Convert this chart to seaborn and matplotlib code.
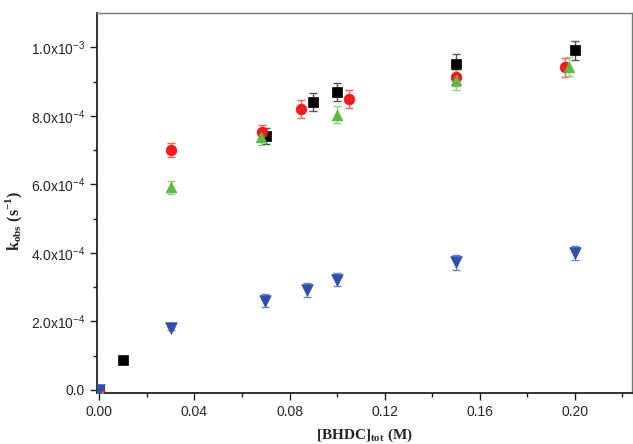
import numpy as np
import pandas as pd
import matplotlib
matplotlib.use("Agg")
import matplotlib.pyplot as plt
import seaborn as sns
from matplotlib.ticker import MultipleLocator, FuncFormatter

# ---- data ----
x_black = [0.0, 0.01, 0.07, 0.09, 0.10, 0.15, 0.20]
y_black = [0.0, 0.86e-4, 7.42e-4, 8.41e-4, 8.70e-4, 9.52e-4, 9.91e-4]
e_black = [0.0, 0.0, 0.23e-4, 0.26e-4, 0.27e-4, 0.29e-4, 0.29e-4]

x_red = [0.0, 0.03, 0.0685, 0.085, 0.105, 0.15, 0.196]
y_red = [0.0, 7.00e-4, 7.52e-4, 8.20e-4, 8.50e-4, 9.15e-4, 9.42e-4]
e_red = [0.0, 0.21e-4, 0.21e-4, 0.26e-4, 0.26e-4, 0.28e-4, 0.28e-4]

x_green = [0.0, 0.03, 0.068, 0.10, 0.15, 0.1975]
y_green = [0.0, 5.91e-4, 7.38e-4, 8.03e-4, 9.05e-4, 9.44e-4]
e_green = [0.0, 0.19e-4, 0.22e-4, 0.25e-4, 0.28e-4, 0.28e-4]

x_blue = [0.0, 0.03, 0.0695, 0.0875, 0.10, 0.15, 0.20]
y_blue = [0.0, 1.80e-4, 2.60e-4, 2.92e-4, 3.21e-4, 3.72e-4, 3.99e-4]
e_blue = [0.0, 0.05e-4, 0.19e-4, 0.21e-4, 0.19e-4, 0.21e-4, 0.20e-4]

x_ticks = [0.00, 0.04, 0.08, 0.12, 0.16, 0.20]
y_ticks = [0.0, 2e-4, 4e-4, 6e-4, 8e-4, 1e-3]

series = [
    ("black", x_black, y_black, e_black, "s", "#000000", "#555555", 42),
    ("red", x_red, y_red, e_red, "o", "#ee1c1c", "#f26a5a", 60),
    ("green", x_green, y_green, e_green, "^", "#5cb946", "#8fd07a", 60),
    ("blue", x_blue, y_blue, e_blue, "v", "#2f4fa8", "#6a84c8", 70),
]

sns.set_style("ticks")
plt.rcParams["font.family"] = ["Liberation Sans", "DejaVu Sans"]
plt.rcParams["mathtext.fontset"] = "custom"
plt.rcParams["mathtext.rm"] = "Liberation Sans"

fig = plt.figure(figsize=(6.33, 4.44), dpi=100)
ax = fig.add_axes([0.1532, 0.1149, 0.8452, 0.8547])

frames = []
for name, xs, ys, es, m, c, ec, s in series:
    frames.append(pd.DataFrame({"x": xs, "y": ys, "e": es, "series": name}))
df = pd.concat(frames, ignore_index=True)

for name, xs, ys, es, m, c, ec, s in series:
    sub = df[df["series"] == name]
    ax.errorbar(sub["x"], sub["y"], yerr=sub["e"], fmt="none", ecolor=ec,
                elinewidth=1.0, capsize=3, capthick=1.0, zorder=2)
    sns.scatterplot(data=sub, x="x", y="y", marker=m, color=c, s=s,
                    edgecolor=c, linewidth=0.5, ax=ax, zorder=3, legend=False)

ax.set_xlim(-0.001, 0.224)
ax.set_ylim(-0.9e-5, 1.099e-3)
ax.set_xticks(x_ticks)
ax.set_yticks(y_ticks)
ax.xaxis.set_minor_locator(MultipleLocator(0.02))
ax.yaxis.set_minor_locator(MultipleLocator(1e-4))
ax.xaxis.set_major_formatter(FuncFormatter(lambda v, p: f"{v:.2f}"))


def yfmt(v, p):
    if abs(v) < 1e-12:
        return "0.0"
    exp = int(np.floor(np.log10(abs(v)) + 1e-9))
    mant = v / 10 ** exp
    return f"{mant:.1f}x10$^{{\\mathregular{{{exp}}}}}$"


ax.yaxis.set_major_formatter(FuncFormatter(yfmt))
ax.tick_params(axis="both", which="major", direction="out", length=5, width=1,
               labelsize=10, color="#222222")
ax.tick_params(axis="both", which="minor", direction="out", length=3, width=1,
               color="#222222")

for side in ["left", "bottom"]:
    ax.spines[side].set_color("#222222")
    ax.spines[side].set_linewidth(1.3)
for side in ["top", "right"]:
    ax.spines[side].set_color("#777777")
    ax.spines[side].set_linewidth(1.0)

ax.set_xlabel("[BHDC]$_{\\mathregular{tot}}$ (M)", fontfamily="Liberation Serif",
              fontweight="bold", fontsize=11, labelpad=6)
ax.set_ylabel("k$_{\\mathregular{obs}}$ (s$^{\\mathregular{-1}}$)",
              fontfamily="Liberation Serif", fontweight="bold", fontsize=11.5)
ax.yaxis.set_label_coords(-0.135, 0.455)

fig.savefig("out.png", dpi=100)
